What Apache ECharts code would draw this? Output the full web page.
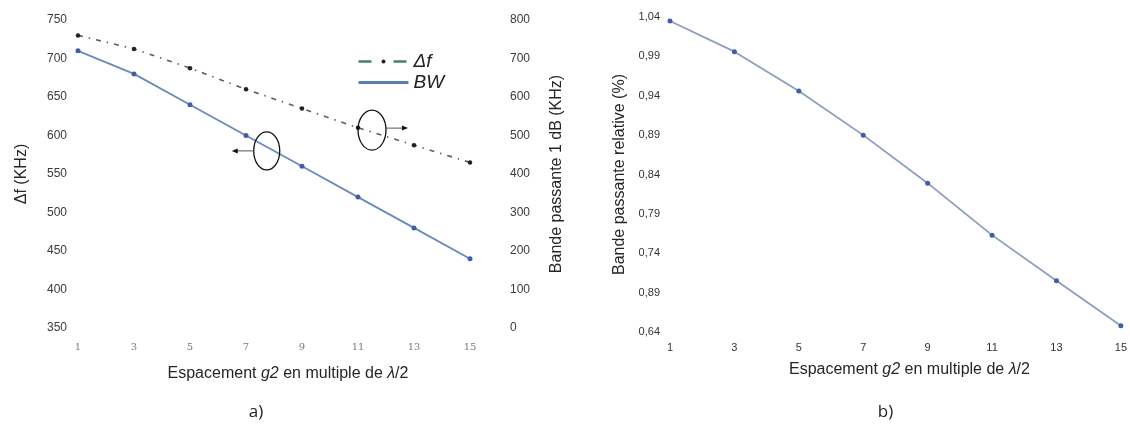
<!DOCTYPE html>
<html>
<head>
<meta charset="utf-8">
<script src="https://cdn.jsdelivr.net/npm/echarts@6/dist/echarts.min.js"></script>
<style>
  html, body { margin: 0; padding: 0; background: #ffffff; }
  #c { width: 1130px; height: 427px; }
</style>
</head>
<body>
<div id="c"></div>
<script>
// Spacing g2 as a multiple of lambda/2 (shared by both panels)
const spacing = ['1', '3', '5', '7', '9', '11', '13', '15'];

// Panel a): 1 dB bandwidth (left scale) and frequency offset (right scale), in KHz
const bwKHz = [710, 680, 640, 600, 560, 520, 480, 440];
const deltaFKHz = [760, 725, 675, 620, 570, 520, 475, 430];

// Panel b): relative bandwidth in %
const relBW = [1.035, 0.996, 0.946, 0.890, 0.829, 0.763, 0.705, 0.648];
const relTickValues = [0.64, 0.69, 0.74, 0.79, 0.84, 0.89, 0.94, 0.99, 1.04];
const relTickLabels = ['0,64', '0,89', '0,74', '0,79', '0,84', '0,89', '0,94', '0,99', '1,04'];

// Callouts: an ellipse round a curve with an arrow to the axis it reads from
// x is given as a fractional position between categories, y in the axis units
const callouts = [
  { x: 7.74, y: 580, yAxisIndex: 0, rx: 13, ry: 19, dir: -1 },
  { x: 11.5, y: 514, yAxisIndex: 1, rx: 14, ry: 20, dir: 1 }
];

const SANS = '"Liberation Sans", Arial, sans-serif';
const chart = echarts.init(document.getElementById('c'), null, { renderer: 'canvas' });

const titleStyle = { fontFamily: SANS, fontSize: 16, color: '#262626' };
const xTitleRich = {
  fontFamily: SANS, fontSize: 16, color: '#262626', padding: [0, 0, 0, 28],
  rich: { i: { fontFamily: SANS, fontSize: 16, fontStyle: 'italic', color: '#262626' } }
};
const xTitle = 'Espacement {i|g2} en multiple de {i|λ}/2';

chart.setOption({
  animation: false,
  backgroundColor: '#ffffff',
  grid: [
    { left: 78, right: 660, top: 20, bottom: 99 },
    { left: 670, right: 8, top: 17, bottom: 95 }
  ],
  legend: {
    left: 352, top: 47, orient: 'vertical', itemWidth: 50, itemHeight: 5, itemGap: 2,
    textStyle: { fontFamily: SANS, fontSize: 19, fontStyle: 'italic', color: '#222' },
    data: [
      { name: 'Δf', lineStyle: { color: '#4b7d69', width: 2.5, type: [13, 22] },
        itemStyle: { color: '#222', borderWidth: 0 } },
      { name: 'BW', lineStyle: { color: '#5b7fb3', width: 3, type: 'solid' },
        itemStyle: { opacity: 0 } }
    ]
  },
  xAxis: [
    {
      gridIndex: 0, type: 'category', data: spacing, boundaryGap: false,
      axisLine: { show: false }, axisTick: { show: false }, splitLine: { show: false },
      axisLabel: { margin: 14, fontFamily: '"DejaVu Serif", serif', fontSize: 10, color: '#7a7a7a' },
      name: xTitle, nameLocation: 'middle', nameGap: 38, nameTextStyle: xTitleRich
    },
    {
      gridIndex: 1, type: 'category', data: spacing, boundaryGap: false,
      axisLine: { show: false }, axisTick: { show: false }, splitLine: { show: false },
      axisLabel: { margin: 10, fontFamily: SANS, fontSize: 11, color: '#333' },
      name: xTitle, nameLocation: 'middle', nameGap: 30, nameTextStyle: xTitleRich
    }
  ],
  yAxis: [
    {
      gridIndex: 0, type: 'value', min: 350, max: 750, interval: 50, position: 'left',
      axisLine: { show: false }, axisTick: { show: false }, splitLine: { show: false },
      axisLabel: { margin: 11, fontFamily: SANS, fontSize: 12, color: '#3a3a3a' },
      name: 'Δf (KHz)', nameLocation: 'middle', nameRotate: 90, nameGap: 48,
      nameTextStyle: titleStyle
    },
    {
      gridIndex: 0, type: 'value', min: 0, max: 800, interval: 100, position: 'right',
      axisLine: { show: false }, axisTick: { show: false }, splitLine: { show: false },
      axisLabel: { margin: 40, fontFamily: SANS, fontSize: 12, color: '#3a3a3a' },
      name: 'Bande passante 1 dB (KHz)', nameLocation: 'middle', nameRotate: 90, nameGap: 79,
      nameTextStyle: titleStyle
    },
    {
      gridIndex: 1, type: 'value', min: relTickValues[0], max: relTickValues[relTickValues.length - 1],
      axisLine: { show: false }, axisTick: { show: false }, splitLine: { show: false },
      axisLabel: {
        customValues: relTickValues, margin: 10, fontFamily: SANS, fontSize: 11, color: '#333',
        formatter: function (v) {
          const i = Math.round((v - relTickValues[0]) / 0.05);
          return relTickLabels[i] !== undefined ? relTickLabels[i] : '';
        }
      },
      name: 'Bande passante relative (%)', nameLocation: 'middle', nameRotate: 90, nameGap: 42,
      nameTextStyle: titleStyle
    }
  ],
  series: [
    {
      name: 'Δf', type: 'line', xAxisIndex: 0, yAxisIndex: 1, data: deltaFKHz,
      symbol: 'circle', symbolSize: 4.5,
      itemStyle: { color: '#1e2420' },
      lineStyle: { color: '#52635b', width: 1.6, type: [5, 6, 1.5, 6] }
    },
    {
      name: 'BW', type: 'line', xAxisIndex: 0, yAxisIndex: 0, data: bwKHz,
      symbol: 'circle', symbolSize: 5,
      itemStyle: { color: '#3e5ea8' },
      lineStyle: { color: '#6a8abc', width: 1.8 }
    },
    {
      name: 'Bande passante relative', type: 'line', xAxisIndex: 1, yAxisIndex: 2, data: relBW,
      symbol: 'circle', symbolSize: 5,
      itemStyle: { color: '#3e5ea8' },
      lineStyle: { color: '#8c9dc2', width: 1.8 }
    }
  ]
});

// Place the callouts and panel captions from axis coordinates
function catX(pos) {
  const i = (pos - 1) / 2;
  const i0 = Math.max(0, Math.min(spacing.length - 2, Math.floor(i)));
  const x0 = chart.convertToPixel({ xAxisIndex: 0 }, spacing[i0]);
  const x1 = chart.convertToPixel({ xAxisIndex: 0 }, spacing[i0 + 1]);
  return x0 + (x1 - x0) * (i - i0);
}

const graphics = [];
callouts.forEach(function (c) {
  const cx = catX(c.x);
  const cy = chart.convertToPixel({ yAxisIndex: c.yAxisIndex }, c.y);
  graphics.push({
    type: 'ellipse', shape: { cx: cx, cy: cy, rx: c.rx, ry: c.ry },
    style: { fill: 'none', stroke: '#111', lineWidth: 1.3 }, z: 10
  });
  const xs = cx + c.dir * c.rx;
  const xe = xs + c.dir * 22;
  const ay = c.dir < 0 ? cy : cy - 2;
  graphics.push({
    type: 'line', shape: { x1: xs, y1: ay, x2: xe - c.dir * 4, y2: ay },
    style: { stroke: '#555', lineWidth: 1 }, z: 10
  });
  graphics.push({
    type: 'polygon',
    shape: { points: [[xe, ay], [xe - c.dir * 6, ay - 2.5], [xe - c.dir * 6, ay + 2.5]] },
    style: { fill: '#111' }, z: 10
  });
});

const capStyle = { fontFamily: '"Open Sans", sans-serif', fontSize: 17, fill: '#222' };
const gridA = [chart.convertToPixel({ xAxisIndex: 0 }, spacing[0]), chart.convertToPixel({ xAxisIndex: 0 }, spacing[spacing.length - 1])];
const gridB = [chart.convertToPixel({ xAxisIndex: 1 }, spacing[0]), chart.convertToPixel({ xAxisIndex: 1 }, spacing[spacing.length - 1])];
graphics.push({
  type: 'text', x: (gridA[0] + gridA[1]) / 2 - 18, y: 412,
  style: Object.assign({ text: 'a)', align: 'center', verticalAlign: 'middle' }, capStyle)
});
graphics.push({
  type: 'text', x: (gridB[0] + gridB[1]) / 2 - 10, y: 412,
  style: Object.assign({ text: 'b)', align: 'center', verticalAlign: 'middle' }, capStyle)
});

chart.setOption({ graphic: graphics });
</script>
</body>
</html>
